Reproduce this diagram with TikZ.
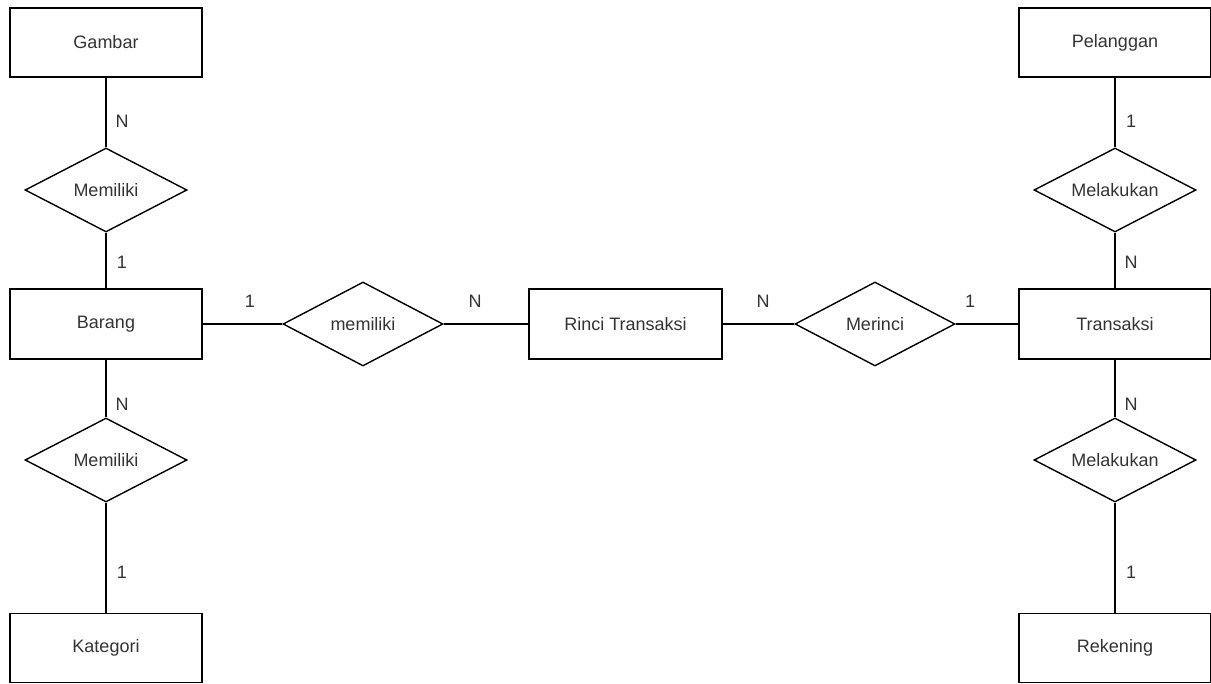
\documentclass[tikz,border=0pt]{standalone}
\usepackage{fontspec}
\setmainfont{Liberation Sans}
\usetikzlibrary{shapes.geometric}
\definecolor{txt}{HTML}{333333}
\begin{document}
\begin{tikzpicture}[x=1pt,y=-1pt,
  lab/.style={text=txt,font=\fontsize{18pt}{20pt}\selectfont},
  ent/.style={lab,draw=black,line width=1.4pt,minimum width=192pt,minimum height=69pt,inner sep=0pt},
  rel/.style={lab,draw=black,line width=1.4pt,diamond,aspect=1.9,minimum width=161pt,minimum height=84pt,inner sep=0pt},
  card/.style={lab,inner sep=0pt},
  conn/.style={draw=black,line width=1.4pt}]
\useasboundingbox (0,0) rectangle (1211,684);
% left column
\node[ent] (gambar) at (106,42.5) {Gambar};
\node[rel,minimum width=162pt] (mem1) at (106,190) {Memiliki};
\node[ent,minimum height=70pt] (barang) at (106,324) {Barang};
\node[rel,minimum width=162pt] (mem2) at (106,460) {Memiliki};
\node[ent] (kategori) at (106,648) {Kategori};
% middle
\node[rel,minimum width=160pt] (mem3) at (363,324) {memiliki};
\node[ent,minimum width=193pt,minimum height=70pt] (rinci) at (625.5,324) {Rinci Transaksi};
\node[rel,minimum width=160pt] (merinci) at (875,324) {Merinci};
% right column
\node[ent] (pelanggan) at (1115,42.5) {Pelanggan};
\node[rel,minimum width=162pt] (mel1) at (1115,190) {Melakukan};
\node[ent,minimum height=70pt] (transaksi) at (1115,324) {Transaksi};
\node[rel,minimum width=162pt] (mel2) at (1115,460) {Melakukan};
\node[ent] (rekening) at (1115,648) {Rekening};
% connectors
\draw[conn] (gambar) -- (mem1) -- (barang) -- (mem2) -- (kategori);
\draw[conn] (pelanggan) -- (mel1) -- (transaksi) -- (mel2) -- (rekening);
\draw[conn] (barang) -- (mem3) -- (rinci) -- (merinci) -- (transaksi);
% cardinalities
\node[card] (c1) at (122,121) {N};
\node[card] (c2) at (122,262) {1};
\node[card] (c3) at (122,404) {N};
\node[card] (c4) at (122,572) {1};
\node[card] (c5) at (1131,121) {1};
\node[card] (c6) at (1131,262) {N};
\node[card] (c7) at (1131,404) {N};
\node[card] (c8) at (1131,572) {1};
\node[card] (c9) at (250,301) {1};
\node[card] (c10) at (475,301) {N};
\node[card] (c11) at (763,301) {N};
\node[card] (c12) at (970,301) {1};
\end{tikzpicture}
\end{document}
